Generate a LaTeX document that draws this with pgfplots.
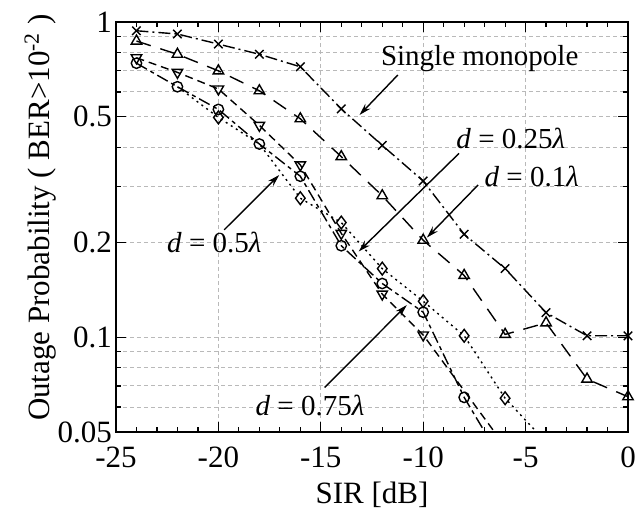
\documentclass[border=0pt]{standalone}
\usepackage{pgfplots}
\pgfplotsset{compat=1.18}
\usepackage{fontspec}
\setmainfont{Liberation Serif}
\usetikzlibrary{arrows.meta}

\begin{document}
\begin{tikzpicture}
\begin{axis}[
  scale only axis, width=256pt, height=205pt,
  ymode=log, xmin=-25, xmax=0, ymin=0.05, ymax=1,
  xtick={-25,-20,-15,-10,-5,0}, xticklabels={-25,-20,-15,-10,-5,0},
  minor xtick={-24,-23,...,-1},
  ytick={0.05,0.1,0.2,0.5,1}, yticklabels={0.05,0.1,0.2,0.5,1},
  minor ytick={0.06,0.07,0.08,0.09,0.3,0.4,0.6,0.7,0.8,0.9},
  xmajorgrids, ymajorgrids, yminorgrids,
  major grid style={gray!55, dash pattern=on 2pt off 1.5pt, line width=0.5pt},
  minor grid style={gray!55, dash pattern=on 2pt off 1.5pt, line width=0.5pt},
  major tick length=5pt, minor tick length=2.5pt,
  every tick/.style={black, line width=0.6pt},
  axis line style={line width=1pt},
  /pgf/number format/assume math mode=true,
  ticklabel style={font=\fontsize{15.5}{17}\selectfont},
  xticklabel style={yshift=-4pt},
  yticklabel style={xshift=1.5pt},
  label style={font=\fontsize{15.5}{17}\selectfont},
  xlabel={SIR [dB]},
  ylabel={Outage Probability ( BER>10\textsuperscript{-2} )},
  xlabel style={at={(axis description cs:0.5,-0.152)}, anchor=center},
  ylabel style={at={(axis description cs:-0.148,0.523)}, anchor=center},
  every axis plot/.append style={black, line width=0.7pt},
  mark size=2.6pt,
]
% single monopole
\addplot[mark=x, mark size=3pt, dash pattern=on 6pt off 2pt on 1pt off 2pt, mark options={solid}] coordinates {
 (-24,0.938)(-22,0.916)(-20,0.851)(-18,0.79)(-16,0.721)(-14,0.53)(-12,0.406)
 (-10,0.313)(-8,0.212)(-6,0.165)(-4,0.1196)(-2,0.101)(0,0.101)};
% d = 0.1 lambda
\addplot[mark=triangle, mark size=3pt, dash pattern=on 7.5pt off 5pt, mark options={solid}] coordinates {
 (-24,0.87)(-22,0.79)(-20,0.70)(-18,0.605)(-16,0.493)(-14,0.374)(-12,0.281)
 (-10,0.203)(-8,0.157)(-6,0.102)(-4,0.111)(-2,0.0736)(0,0.0647)};
% triangle down
\addplot[mark=triangle, mark size=3pt, dash pattern=on 4pt off 2.5pt, mark options={solid, rotate=180}, mark indices={1,...,8}] coordinates {
 (-24,0.77)(-22,0.692)(-20,0.613)(-18,0.47)(-16,0.352)(-14,0.2135)(-12,0.137)
 (-10,0.1016)(-6,0.045)};
% circles
\addplot[mark=o, dash pattern=on 6pt off 2pt on 2pt off 2pt, mark options={solid}, mark indices={1,...,9}] coordinates {
 (-24,0.74)(-22,0.623)(-20,0.528)(-18,0.41)(-16,0.324)(-14,0.195)(-12,0.148)
 (-10,0.12)(-8,0.0644)(-6,0.039)};
% diamonds
\addplot[mark=diamond, mark size=3.2pt, dash pattern=on 1pt off 2pt, mark options={solid}, mark indices={2,4,5,6,7,8,9}] coordinates {
 (-22,0.623)(-20,0.498)(-18,0.41)(-16,0.276)(-14,0.231)(-12,0.165)(-10,0.13)
 (-8,0.101)(-6,0.064)(-4,0.0464)};

% annotations
\begin{scope}[font=\fontsize{14.5}{16}\selectfont]
\node at (axis cs:-7.24,0.768) {Single monopole};
\node at (axis cs:-5.72,0.428) {\textit{d} = 0.25\textit{λ}};
\node at (axis cs:-4.7,0.3245) {\textit{d} = 0.1\textit{λ}};
\node at (axis cs:-20.2,0.199) {\textit{d} = 0.5\textit{λ}};
\node at (axis cs:-15.53,0.0609) {\textit{d} = 0.75\textit{λ}};
\end{scope}
\begin{scope}[line width=0.7pt, -{Stealth[length=6pt, width=3.5pt]}]
\draw (axis cs:-11.24,0.679) -- (axis cs:-13.11,0.507);
\draw (axis cs:-8.25,0.383) -- (axis cs:-13.15,0.187);
\draw (axis cs:-7.32,0.304) -- (axis cs:-9.82,0.207);
\draw (axis cs:-19.72,0.219) -- (axis cs:-17.03,0.327);
\draw (axis cs:-14.81,0.0692) -- (axis cs:-10.8,0.1264);
\end{scope}
\end{axis}
\pgfresetboundingbox
\path[use as bounding box] ([xshift=-58pt, yshift=-38pt]current axis.south west) rectangle ([xshift=6pt, yshift=11pt]current axis.north east);
\end{tikzpicture}
\end{document}
